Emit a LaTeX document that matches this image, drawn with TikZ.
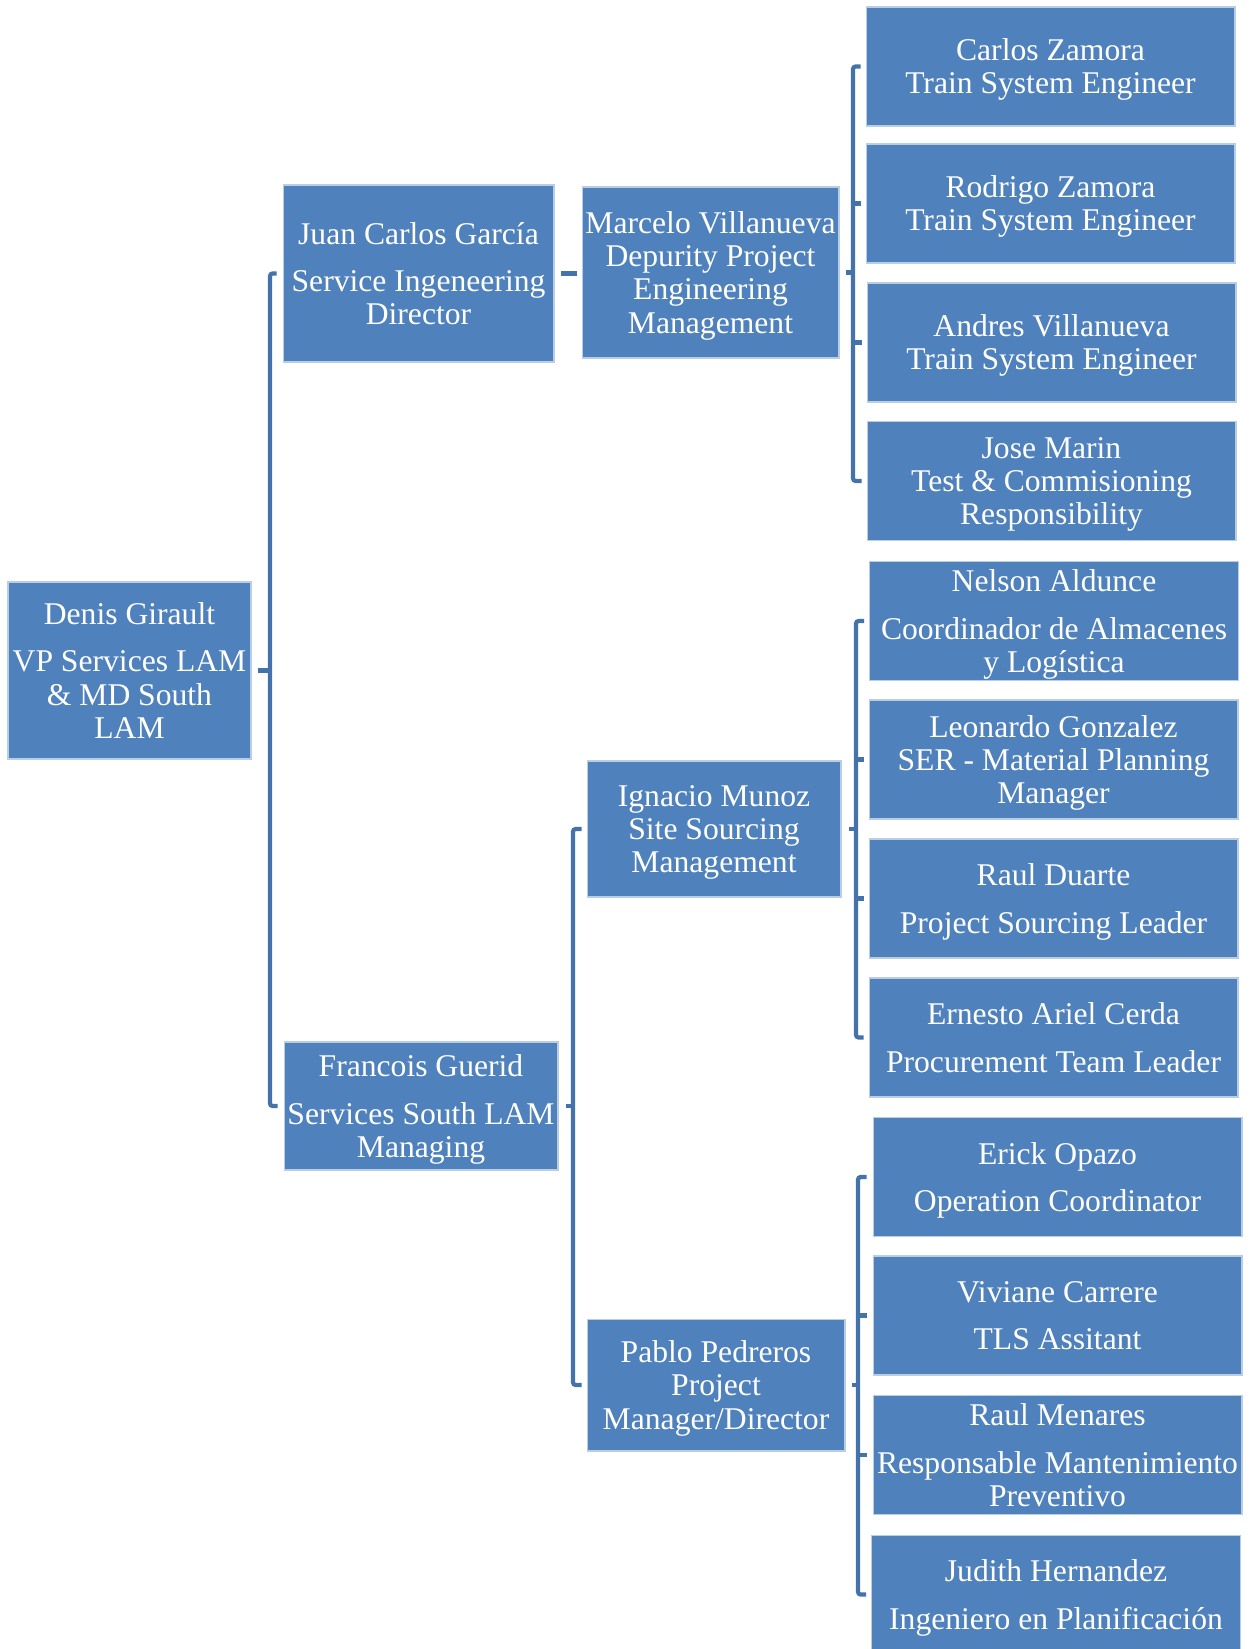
\documentclass[tikz,border=0pt]{standalone}
\usepackage{fontspec}
\setmainfont{Liberation Serif}
\usetikzlibrary{calc}
\definecolor{boxblue}{HTML}{4F81BD}
\definecolor{linkblue}{RGB}{68,114,170}
\tikzset{x=0.02cm, y=-0.02cm,
  person/.style={rectangle, draw=white!60!boxblue, line width=0.6pt, fill=boxblue, text=white, align=center, inner sep=0pt, text depth=0pt, font=\fontsize{18}{18.8}\selectfont},
  staff/.style={person, minimum width=7.38cm, minimum height=2.38cm},
  link/.style={draw=linkblue, line width=2.4pt, rounded corners=1.5pt}}

\begin{document}
\begin{tikzpicture}
    \useasboundingbox (0,0) rectangle (1249,1649);
    % heads
    \node[person, minimum width=4.86cm, minimum height=3.54cm] (denis) at (129.5,670.5) {Denis Girault\\[8pt]VP Services LAM\\\& MD South\\LAM};
    \node[person, minimum width=5.42cm, minimum height=3.54cm] (juan) at (418.5,273.5) {Juan Carlos García\\[8pt]Service Ingeneering\\Director};
    \node[person, minimum width=5.14cm, minimum height=3.42cm] (marcelo) at (710.5,272.5) {Marcelo Villanueva\\Depurity Project\\Engineering\\Management};
    \node[person, minimum width=5.48cm, minimum height=2.56cm] (francois) at (421,1106) {Francois Guerid\\[8pt]Services South LAM\\Managing};
    \node[person, minimum width=5.08cm, minimum height=2.72cm] (ignacio) at (714,829) {Ignacio Munoz\\Site Sourcing\\Management};
    \node[person, minimum width=5.16cm, minimum height=2.64cm] (pablo) at (716,1385) {Pablo Pedreros\\Project\\Manager/Director};
    % engineering team
    \node[staff] (carlos) at (1050.5,66.5) {Carlos Zamora\\Train System Engineer};
    \node[staff] (rodrigo) at (1050.5,203.5) {Rodrigo Zamora\\Train System Engineer};
    \node[staff] (andres) at (1051.5,342.5) {Andres Villanueva\\Train System Engineer};
    \node[staff] (jose) at (1051.5,481) {Jose Marin\\Test \& Commisioning\\Responsibility};
    % sourcing team
    \node[staff] (nelson) at (1054,621) {Nelson Aldunce\\[8pt]Coordinador de Almacenes\\y Logística};
    \node[staff] (leonardo) at (1053.5,759.5) {Leonardo Gonzalez\\SER - Material Planning\\Manager};
    \node[staff] (rauld) at (1053.5,898.5) {Raul Duarte\\[8pt]Project Sourcing Leader};
    \node[staff] (ernesto) at (1053.5,1037.5) {Ernesto Ariel Cerda\\[8pt]Procurement Team Leader};
    % project team
    \node[staff] (erick) at (1057.5,1177) {Erick Opazo\\[8pt]Operation Coordinator};
    \node[staff] (viviane) at (1057.5,1315.5) {Viviane Carrere\\[8pt]TLS Assitant};
    \node[staff] (raulm) at (1057.5,1455) {Raul Menares\\[8pt]Responsable Mantenimiento\\Preventivo};
    \node[staff] (judith) at (1056,1594.5) {Judith Hernandez\\[8pt]Ingeniero en Planificación};

    \coordinate (rootspine) at (270,0);
    \coordinate (engspine) at (853,0);
    \coordinate (sitespine) at (573,0);
    \coordinate (sourcespine) at (856,0);
    \coordinate (projspine) at (858,0);

    \draw[link] ($(denis.east)+(6,0)$) -- (denis.east -| rootspine);
    \draw[link] ($(juan.west)+(-6,0)$) -| (rootspine |- francois.west) -- ($(francois.west)+(-6,0)$);

    \draw[link] ($(juan.east)+(6,0)$) -- ($(juan.east -| marcelo.west)+(-5,0)$);

    \draw[link] ($(marcelo.east)+(6,0)$) -- (marcelo.east -| engspine);
    \draw[link] ($(carlos.west)+(-5,0)$) -| (engspine |- jose.west) -- ($(jose.west)+(-5,0)$);
    \foreach \n in {rodrigo,andres}
        \draw[link] (engspine |- \n.west) -- ($(\n.west)+(-5,0)$);

    \draw[link] ($(francois.east)+(7,0)$) -- (francois.east -| sitespine);
    \draw[link] ($(ignacio.west)+(-5,0)$) -| (sitespine |- pablo.west) -- ($(pablo.west)+(-5,0)$);

    \draw[link] ($(ignacio.east)+(7,0)$) -- (ignacio.east -| sourcespine);
    \draw[link] ($(nelson.west)+(-5,0)$) -| (sourcespine |- ernesto.west) -- ($(ernesto.west)+(-5,0)$);
    \foreach \n in {leonardo,rauld}
        \draw[link] (sourcespine |- \n.west) -- ($(\n.west)+(-5,0)$);

    \draw[link] ($(pablo.east)+(6,0)$) -- (pablo.east -| projspine);
    \draw[link] ($(erick.west)+(-6,0)$) -| (projspine |- judith.west) -- ($(judith.west)+(-5,0)$);
    \foreach \n in {viviane,raulm}
        \draw[link] (projspine |- \n.west) -- ($(\n.west)+(-6,0)$);
\end{tikzpicture}
\end{document}
